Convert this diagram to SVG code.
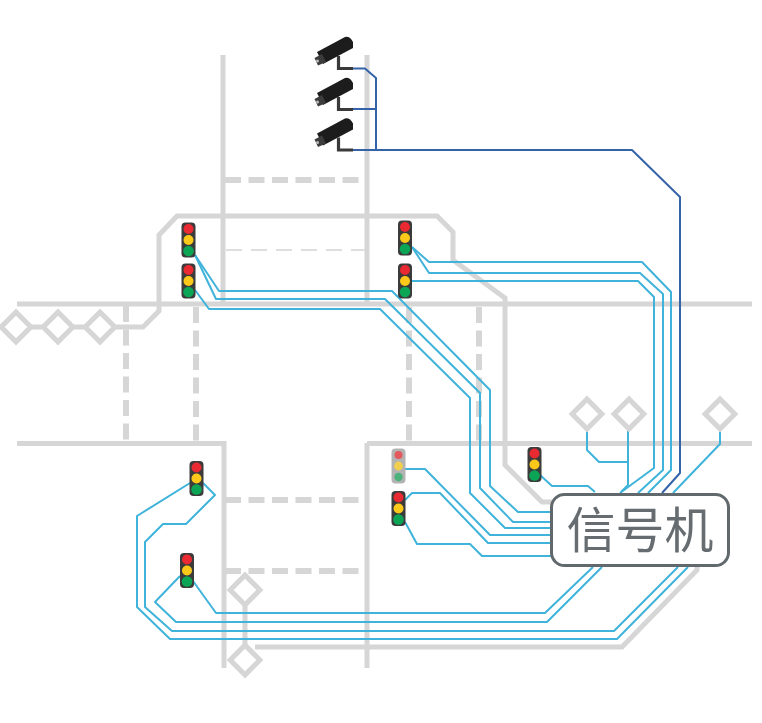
<svg xmlns="http://www.w3.org/2000/svg" xmlns:xlink="http://www.w3.org/1999/xlink" width="762" height="723" viewBox="0 0 762 723">
<style>
.road{fill:none;stroke:#d6d6d6;stroke-width:5}
.dash{fill:none;stroke:#d6d6d6;stroke-width:6;stroke-dasharray:16 7.5}
.thin{fill:none;stroke:#dedede;stroke-width:2;stroke-dasharray:16 9}
.dia{fill:#fff;stroke:#d6d6d6;stroke-width:5}
.w{fill:none;stroke:#3fb3da;stroke-width:2;stroke-linejoin:round}
.b{fill:none;stroke:#3563a9;stroke-width:2;stroke-linejoin:round}
.lab{font-family:"Noto Sans CJK SC","Noto Sans",sans-serif;font-size:49px;fill:#666c70}
</style>
<defs>
<g id="tl"><rect x="-7" y="-17.500" width="14" height="35" rx="4" fill="#3b3b3b"/><circle cy="-11" r="5" fill="#e92a32"/><circle cy="0" r="5" fill="#fcc91a"/><circle cy="11" r="5.300" fill="#0ca556"/></g>
<g id="tlf"><rect x="-7" y="-17.500" width="14" height="35" rx="4" fill="#b3b3b3"/><circle cy="-11" r="4" fill="#e4595e"/><circle cy="0" r="4.400" fill="#f3cf4e"/><circle cy="11" r="4.200" fill="#4bb27c"/></g>
<g id="cam"><path d="M317,52 L345,37 Q350,36 353,42 L353,48 L323,64 Z" fill="#1c1c1c"/><path d="M314.500,58 L322,54 L326,62 L318,65.500 Z" fill="#3c3c3c"/><circle cx="317.500" cy="61" r="1.500" fill="#bbb"/><path d="M338.500,56 V68.500 H353" fill="none" stroke="#3a3a3a" stroke-width="3.200"/></g>
</defs>
<g id="roads">
<path class="road" d="M223,55V305M367,55V305M17,304H752M17,443.500H224V668M367,443.500H752M367,443V668"/>
<path class="road" d="M16,327H143L159,311V235L177,216H437L453,232V260L505,298V465L542,502H552"/>
<path class="road" d="M255,647H622L697,570V565M245,604V646"/>
<path class="dash" d="M126,306V443"/><path class="dash" d="M196,307V443"/><path class="dash" d="M409,307V443"/><path class="dash" d="M479,307V443"/>
<path class="dash" d="M225,180H365"/><path class="dash" d="M225,500H365"/><path class="dash" d="M225,571H365"/>
<path class="thin" d="M226,250H365"/>
</g>
<g id="connectors">
<path class="b" d="M353,68.500H365L376,78V150M353,109H376M353,150H632L680,197V473L662,493"/>
<path class="w" d="M195,255L219,291H392L490,390V486L518,512H552"/>
<path class="w" d="M195,255L216,299H385L480,393V488L513,522H552"/>
<path class="w" d="M195,290L209,309H380L470,398V493L505,528H552"/>
<path class="w" d="M405,469H425L490,535H552"/>
<path class="w" d="M405,500L412,493H440L488,543H552"/>
<path class="w" d="M405,522L417,544H470L482,556H552"/>
<path class="w" d="M540,475L552,486H588L595,492"/>
<path class="w" d="M412,247L429,262H642L671,292V470L648,493"/>
<path class="w" d="M412,247L429,273H640L663,294V470L638,493"/>
<path class="w" d="M412,281H638L654,297V468L620,493"/>
<path class="w" d="M587,427V450L599,462H628M628,427V485L621,492"/>
<path class="w" d="M720,427V444L673,493"/>
<path class="w" d="M193,581L216,613H545L593,567"/>
<path class="w" d="M180,576L155,602L176,622H547L602,567"/>
<path class="w" d="M203,483L215,495L186,524H163L145,542V607L172,631H614L678,567"/>
<path class="w" d="M190,483L137,516V607L170,639H617L688,567"/>
</g>
<g id="cam1"><use href="#cam"/></g>
<g id="cam2"><use href="#cam" y="41"/></g>
<g id="cam3"><use href="#cam" y="81.500"/></g>
<g id="tl1"><use href="#tl" x="188.500" y="240"/></g>
<g id="tl2"><use href="#tl" x="188.500" y="281"/></g>
<g id="tl3"><use href="#tl" x="405" y="238"/></g>
<g id="tl4"><use href="#tl" x="405" y="281"/></g>
<g id="tl5"><use href="#tlf" x="398.500" y="466"/></g>
<g id="tl6"><use href="#tl" x="398.500" y="508.500"/></g>
<g id="tl7"><use href="#tl" x="534.500" y="464.500"/></g>
<g id="tl8"><use href="#tl" x="196.500" y="478.500"/></g>
<g id="tl9"><use href="#tl" x="187" y="570.500"/></g>
<g id="d1"><rect class="dia" x="-10.500" y="-10.500" width="21" height="21" transform="translate(16 327) rotate(45)"/></g>
<g id="d2"><rect class="dia" x="-10.500" y="-10.500" width="21" height="21" transform="translate(58 327) rotate(45)"/></g>
<g id="d3"><rect class="dia" x="-10.500" y="-10.500" width="21" height="21" transform="translate(100 327) rotate(45)"/></g>
<g id="d4"><rect class="dia" x="-10.500" y="-10.500" width="21" height="21" transform="translate(587 414) rotate(45)"/></g>
<g id="d5"><rect class="dia" x="-10.500" y="-10.500" width="21" height="21" transform="translate(629 414) rotate(45)"/></g>
<g id="d6"><rect class="dia" x="-10.500" y="-10.500" width="21" height="21" transform="translate(720 414) rotate(45)"/></g>
<g id="d7"><rect class="dia" x="-10.500" y="-10.500" width="21" height="21" transform="translate(245 590) rotate(45)"/></g>
<g id="d8"><rect class="dia" x="-10.500" y="-10.500" width="21" height="21" transform="translate(245 660) rotate(45)"/></g>
<g id="controller"><rect x="551.500" y="494.500" width="177" height="71" rx="13" fill="#fff" stroke="#61696d" stroke-width="3"/><text class="lab" x="640" y="548" text-anchor="middle">信号机</text></g>
</svg>
